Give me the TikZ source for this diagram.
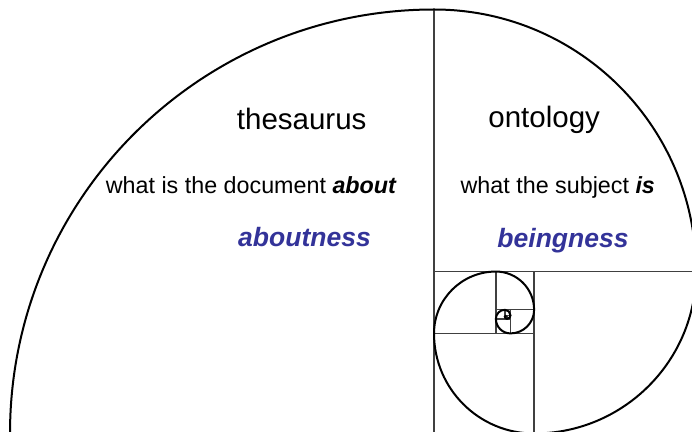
\documentclass[tikz,border=0pt]{standalone}
\usepackage{fontspec}
\setmainfont{Liberation Sans}
\definecolor{txtblue}{RGB}{51,51,153}
\begin{document}
\begin{tikzpicture}[x=1pt,y=1pt,
  sq/.style={draw=black!75, line width=1.4pt},
  spiral/.style={draw=black, line width=2pt},
  title/.style={anchor=base, inner sep=0pt, font=\fontsize{29.5}{35}\selectfont},
  desc/.style={anchor=base, inner sep=0pt, font=\fontsize{23.3}{28}\selectfont},
  key/.style={anchor=base, inner sep=0pt, text=txtblue, font=\fontsize{26.5}{32}\selectfont\bfseries\itshape}]
\useasboundingbox (0,0) rectangle (692,431);
\clip (0,0) rectangle (692,431);
\fill[white] (0,0) rectangle (692,431);
% square divisions
\draw[sq] (434,-5) -- (434,421.5);
\draw[sq] (434,159.45) -- (700,159.45);
\draw[sq] (534.1,-5) -- (534.1,159.45);
\draw[sq] (434,97.6) -- (534.1,97.6);
\draw[sq] (495.96,97.6) -- (495.96,159.45);
\draw[sq] (495.96,121.3) -- (534.1,121.3);
\draw[sq] (510.5,97.6) -- (510.5,121.3);
\draw[sq] (495.96,112.2) -- (510.5,112.2);
\draw[sq] (505,112.2) -- (505,121.3);
\draw[sq] (505,115.7) -- (510.5,115.7);
\draw[sq] (507.1,112.2) -- (507.1,115.7);
% golden spiral
\draw[spiral] (10,-2.5) arc[start angle=180,end angle=90,radius=424]
  arc[start angle=90,end angle=0,radius=262.05]
  arc[start angle=0,end angle=-90,radius=161.95]
  arc[start angle=-90,end angle=-180,radius=100.09]
  arc[start angle=180,end angle=90,radius=61.86]
  arc[start angle=90,end angle=0,radius=38.23]
  arc[start angle=0,end angle=-90,radius=23.63]
  arc[start angle=-90,end angle=-180,radius=14.60]
  arc[start angle=180,end angle=90,radius=9.02]
  arc[start angle=90,end angle=0,radius=5.58]
  arc[start angle=0,end angle=-90,radius=3.45]
  arc[start angle=-90,end angle=-180,radius=2.13]
  arc[start angle=180,end angle=90,radius=1.32];
% texts
\node[title] (thes) at (301.7,301) {thesaurus};
\node[title] (onto) at (544.2,303.7) {ontology};
\node[desc] (aboutq) at (251.3,237) {what is the document \textbf{\textit{about}}};
\node[desc] (isq) at (557.8,237) {what the subject \textbf{\textit{is}}};
\node[key] (aboutness) at (304.5,184) {aboutness};
\node[key] (beingness) at (563,183) {beingness};
\end{tikzpicture}
\end{document}
